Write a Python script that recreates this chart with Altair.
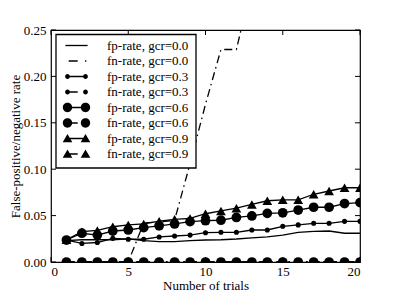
import altair as alt
import pandas as pd

# ---------------- data ----------------
trials = list(range(1, 21))

fp_gcr00 = [0.023, 0.024, 0.024, 0.024, 0.025, 0.023, 0.022, 0.022, 0.023, 0.0237,
            0.024, 0.0248, 0.026, 0.027, 0.029, 0.032, 0.033, 0.0334, 0.031, 0.031]
fn_gcr00 = [0.0, 0.0, 0.0, 0.0, 0.0, 0.042, 0.043, 0.045, 0.106, 0.170,
            0.229, 0.229, 0.30, 0.36, 0.42, 0.48, 0.54, 0.60, 0.66, 0.72]
fp_gcr03 = [0.0235, 0.020, 0.021, 0.0255, 0.0245, 0.0245, 0.027, 0.028, 0.029, 0.0316,
            0.032, 0.032, 0.0345, 0.0345, 0.0385, 0.040, 0.0417, 0.0417, 0.0438, 0.0438]
fn_gcr03 = [0.0, 0.0, 0.0, 0.0, 0.0, 0.0, 0.0, 0.0, 0.0, 0.0,
            0.0, 0.0, 0.0, 0.0, 0.0, 0.0, 0.0, 0.0, 0.0, 0.0]
fp_gcr06 = [0.0237, 0.031, 0.029, 0.0334, 0.0345, 0.037, 0.039, 0.041, 0.0435, 0.0445,
            0.045, 0.048, 0.0496, 0.0524, 0.053, 0.056, 0.059, 0.059, 0.063, 0.064]
fn_gcr06 = [0.0, 0.0, 0.0, 0.0, 0.0, 0.0, 0.0, 0.0, 0.0, 0.0,
            0.0, 0.0, 0.0, 0.0, 0.0, 0.0, 0.0, 0.0, 0.0, 0.0]
fp_gcr09 = [0.024, 0.0327, 0.034, 0.038, 0.040, 0.041, 0.044, 0.046, 0.047, 0.052,
            0.055, 0.058, 0.062, 0.066, 0.067, 0.067, 0.073, 0.0765, 0.080, 0.080]
fn_gcr09 = [0.0, 0.0, 0.0, 0.0, 0.0, 0.0, 0.0, 0.0, 0.0, 0.0,
            0.0, 0.0, 0.0, 0.0, 0.0, 0.0, 0.0, 0.0, 0.0, 0.0]

series_names = ["fp-rate, gcr=0.0", "fn-rate, gcr=0.0",
                "fp-rate, gcr=0.3", "fn-rate, gcr=0.3",
                "fp-rate, gcr=0.6", "fn-rate, gcr=0.6",
                "fp-rate, gcr=0.9", "fn-rate, gcr=0.9"]
series_values = [fp_gcr00, fn_gcr00, fp_gcr03, fn_gcr03,
                 fp_gcr06, fn_gcr06, fp_gcr09, fn_gcr09]

x_ticks = [0, 5, 10, 15, 20]
y_ticks = [0.0, 0.05, 0.10, 0.15, 0.20, 0.25]

# ---------------- styles ----------------
FONT = "Liberation Serif"
FS = 13
W, H = 309, 232
DASHDOT = [8, 4, 1.5, 4]
markers = [None, None, "small", "small", "big", "big", "tri", "tri"]
dashed = [False, True, False, True, False, True, False, True]
marker_style = {
    "small": dict(shape="circle", size=26),
    "big": dict(shape="circle", size=95),
    "tri": dict(shape="triangle-up", size=95),
}


# legend glyph paths (all drawn clockwise so that overlaps stay filled)
def circ(cx, r):
    return (f"M{cx - r},0a{r},{r} 0 1,1 {2 * r},0a{r},{r} 0 1,1 {-2 * r},0Z")


def tri(cx, hw, h):
    return f"M{cx - hw},{h * 0.45}L{cx},{-h * 0.55}L{cx + hw},{h * 0.45}Z"


def seg(a, b, hw=0.11):
    return f"M{a},{-hw}L{b},{-hw}L{b},{hw}L{a},{hw}Z"


SOLID = seg(-1.85, 1.85)
DASH = seg(-1.5, 0.2)
legend_paths = [
    SOLID,
    seg(-1.3, 0.2) + seg(1.42, 1.64),
    SOLID + circ(-1.5, 0.4) + circ(1.5, 0.4),
    DASH + circ(-1.5, 0.4) + circ(1.5, 0.4),
    SOLID + circ(-1.5, 0.78) + circ(1.5, 0.78),
    DASH + circ(-1.5, 0.78) + circ(1.5, 0.78),
    SOLID + tri(-1.5, 0.8, 1.4) + tri(1.5, 0.8, 1.4),
    DASH + tri(-1.5, 0.8, 1.4) + tri(1.5, 0.8, 1.4),
]

rows = []
for name, vals in zip(series_names, series_values):
    for t, v in zip(trials, vals):
        rows.append({"t": t, "value": v, "series": name})
df = pd.DataFrame(rows)

x_enc = alt.X("t:Q", scale=alt.Scale(domain=[0, 20], nice=False, zero=False),
              axis=alt.Axis(values=x_ticks, title="Number of trials", format="d",
                            labelPadding=3, titlePadding=1))
y_enc = alt.Y("value:Q", scale=alt.Scale(domain=[0, 0.25], nice=False, zero=False),
              axis=alt.Axis(values=y_ticks, format=".2f",
                            title="False-positive/negative rate",
                            labelPadding=5, titlePadding=1))

layers = []

for i, name in enumerate(series_names):
    base = alt.Chart(df).transform_filter(alt.datum.series == name)
    line_kw = dict(color="black", strokeWidth=1.3, clip=True)
    if dashed[i]:
        line_kw["strokeDash"] = DASHDOT
    layers.append(base.mark_line(**line_kw).encode(x=x_enc, y=y_enc))
    if markers[i]:
        st = marker_style[markers[i]]
        layers.append(base.mark_point(filled=True, opacity=1, color="black", clip=True,
                                      shape=st["shape"], size=st["size"])
                      .encode(x=x_enc, y=y_enc))

# opaque legend frame above the data (decoration only)
frame = alt.Chart(pd.DataFrame({"k": [0]})).mark_rect(
    fill="white", stroke="black", strokeWidth=1.3
).encode(x=alt.value(5), x2=alt.value(145), y=alt.value(4.5), y2=alt.value(138))
layers.append(frame)

# inward ticks on all four sides
xt = pd.DataFrame({"t": x_ticks})
yt = pd.DataFrame({"value": y_ticks})
tick_kw = dict(color="black", strokeWidth=1)
layers.append(alt.Chart(xt).mark_rule(**tick_kw).encode(x=x_enc, y=alt.value(H), y2=alt.value(H - 5)))
layers.append(alt.Chart(xt).mark_rule(**tick_kw).encode(x=x_enc, y=alt.value(0), y2=alt.value(5)))
layers.append(alt.Chart(yt).mark_rule(**tick_kw).encode(y=y_enc, x=alt.value(0), x2=alt.value(5)))
layers.append(alt.Chart(yt).mark_rule(**tick_kw).encode(y=y_enc, x=alt.value(W), x2=alt.value(W - 5)))

# legend carrier (draws nothing itself)
legend_layer = alt.Chart(df).transform_filter("false").mark_point(
    filled=True, opacity=1, color="black", size=144
).encode(
    shape=alt.Shape("series:N",
                    scale=alt.Scale(domain=series_names, range=legend_paths),
                    legend=alt.Legend(title=None, orient="top-left", offset=5,
                                      padding=4, rowPadding=1.5, symbolSize=144,
                                      symbolOffset=10, labelOffset=24,
                                      symbolFillColor="black", symbolStrokeWidth=0,
                                      labelFont=FONT, labelFontSize=FS,
                                      labelColor="black", labelLimit=300))
)
layers.append(legend_layer)

chart = alt.layer(*layers).properties(
    width=W, height=H,
    autosize=alt.AutoSizeParams(type="none"),
    padding={"left": 43, "top": 22, "right": 32, "bottom": 36},
    background="white",
).configure(
    style={"guide-label": {"font": FONT, "fontSize": FS, "fill": "black"}}
).configure_view(
    stroke="black", strokeWidth=1.2
).configure_axis(
    ticks=False, domain=False, grid=False,
    labelFont=FONT, labelFontSize=FS, labelColor="black",
    titleFont=FONT, titleFontSize=FS, titleFontWeight="normal", titleColor="black",
).configure_legend(
    labelFont=FONT, labelFontSize=FS, labelColor="black"
)

chart.save("out.html", embed_options={"renderer": "svg", "actions": False})
